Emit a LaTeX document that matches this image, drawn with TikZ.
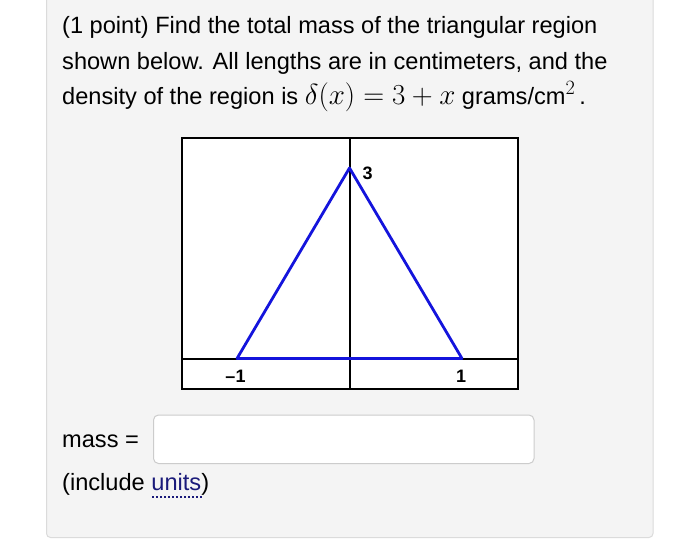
\documentclass[tikz,border=0pt]{standalone}
\usepackage{fix-cm}
\usepackage{fontspec}
\setmainfont{Liberation Sans}
\definecolor{unitc}{HTML}{1A1A7A}
\definecolor{triblue}{HTML}{1414DC}
\newcommand{\bigmath}[1]{{\fontsize{29}{32}\selectfont$#1$}}
\begin{document}
\begin{tikzpicture}[x=1pt,y=-1pt,
  txt/.style={anchor=base west,inner sep=0pt,font=\fontsize{23.6}{28}\selectfont},
  lbl/.style={anchor=center,inner sep=0pt,font=\fontsize{18}{20}\selectfont\bfseries},
  axis/.style={draw=black,line width=1.1pt},
  tri/.style={draw=triblue,line width=2.8pt,line join=round,line cap=round}]
\useasboundingbox (0,0) rectangle (700,553);
\fill[white] (0,0) rectangle (700,553);
% panel
\draw[draw=black!14,fill=black!4.5,rounded corners=4pt,line width=1pt] (46.5,-10) rectangle (653,537.5);
% text
\node[txt] (l1) at (62,34) {(1 point) Find the total mass of the triangular region};
\node[txt] (l2) at (62,69.5) {shown below. All lengths are in centimeters, and the};
\node[txt] (l3) at (62,105) {density of the region is \bigmath{\delta(x) = 3 + x} grams/cm\bigmath{^2}\,.};
% graph
\draw[fill=white,draw=black,line width=1.4pt] (182,138) rectangle (518,389);
\coordinate (ax1) at (182,359);
\coordinate (ax2) at (518,359);
\coordinate (ay1) at (350,138);
\coordinate (ay2) at (350,389);
\draw[axis] (ax1) -- (ax2);
\draw[axis] (ay1) -- (ay2);
\coordinate (A) at (349.5,168);
\coordinate (B) at (237,358.5);
\coordinate (C) at (462,358.5);
\draw[tri] (A) -- (B) -- (C) -- cycle;
\node[lbl] (n3) at (367.5,173) {3};
\node[lbl] (nm1) at (235.5,376) {\textendash1};
\node[lbl] (n1) at (461,376) {1};
% answer
\node[txt] (mass) at (62,447) {mass =};
\draw[draw=black!20,fill=white,rounded corners=5pt,line width=1pt] (153.5,415) rectangle (534,463.5);
\node[txt] (inc) at (62,490) {(include \textcolor{unitc}{units})};
\coordinate (u1) at (152,497);
\coordinate (u2) at (203,497);
\draw[unitc,line width=2.4pt,dash pattern=on 2.4pt off 1.6pt] (u1) -- (u2);
\end{tikzpicture}
\end{document}
